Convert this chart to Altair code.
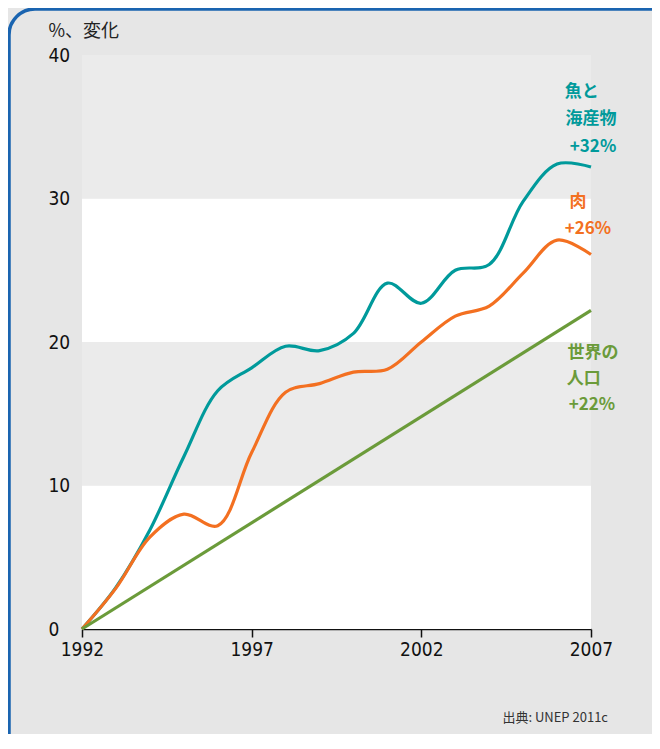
import altair as alt
import pandas as pd

years = list(range(1992, 2008))
fish = [0, 2.9, 6.9, 12.0, 16.6, 18.2, 19.7, 19.4, 20.6, 24.1, 22.7, 25.0, 25.4, 29.8, 32.4, 32.2]
meat = [0, 2.85, 6.4, 8.0, 7.2, 12.3, 16.5, 17.1, 17.9, 18.1, 20.0, 21.8, 22.5, 24.8, 27.1, 26.1]
population = [0, 22.2]
pop_years = [1992, 2007]

series_names = ["fish", "meat", "pop"]
series_colors = ["#009a9b", "#f37021", "#6b9b3a"]

band_lo = [0, 10, 20, 30]
band_hi = [10, 20, 30, 40]
band_fill = ["#ffffff", "#ebebeb", "#ffffff", "#ebebeb"]

label_text = ["魚と", "海産物", "+32%", "肉", "+26%", "世界の", "人口", "+22%"]
label_series = ["fish", "fish", "fish", "meat", "meat", "pop", "pop", "pop"]
label_x = [2006.73, 2007.0, 2007.06, 2006.62, 2006.91, 2007.06, 2006.79, 2007.03]
label_y = [37.4, 35.55, 33.6, 29.75, 27.9, 19.2, 17.45, 15.6]

x_ticks = [1992, 1997, 2002, 2007]
y_ticks = [0, 10, 20, 30, 40]

rows = []
for y, v in zip(years, fish):
    rows.append({"year": y, "value": v, "series": "fish"})
for y, v in zip(years, meat):
    rows.append({"year": y, "value": v, "series": "meat"})
for y, v in zip(pop_years, population):
    rows.append({"year": y, "value": v, "series": "pop"})
df = pd.DataFrame(rows)

bands = pd.DataFrame({"lo": band_lo, "hi": band_hi, "fill": band_fill,
                      "x0": [1992] * 4, "x1": [2007] * 4})
labels = pd.DataFrame({"text": label_text, "series": label_series, "x": label_x, "y": label_y})

xscale = alt.Scale(domain=[1992, 2007], nice=False, zero=False)
yscale = alt.Scale(domain=[0, 40], nice=False)
cscale = alt.Scale(domain=series_names, range=series_colors)

num_font = "Liberation Sans Narrow, DejaVu Sans Condensed, sans-serif"
cjk_font = "Noto Sans CJK JP"

band_layer = alt.Chart(bands).mark_rect().encode(
    x=alt.X("x0:Q", scale=xscale,
            axis=alt.Axis(values=x_ticks, format="d", title=None, grid=False,
                          domainColor="#111111", domainWidth=1.5, tickColor="#111111",
                          tickWidth=1.5, tickSize=8, labelFontSize=19, labelFont=num_font,
                          labelColor="#111111", labelPadding=3, labelFlush=False,
                          labelOverlap=False)),
    x2="x1:Q",
    y=alt.Y("lo:Q", scale=yscale,
            axis=alt.Axis(values=y_ticks, title="%、変化", grid=False, domain=False,
                          ticks=False, tickSize=0, labelAlign="left", labelPadding=34,
                          labelFontSize=19, labelFont=num_font, labelColor="#111111",
                          labelFlush=False,
                          titleAngle=0, titleAlign="left", titleBaseline="middle",
                          titleX=-34, titleY=-24, titleFont=cjk_font, titleFontSize=18,
                          titleFontWeight="normal", titleColor="#222222")),
    y2="hi:Q",
    color=alt.Color("fill:N", scale=None, legend=None),
)

line_layer = alt.Chart(df).mark_line(interpolate="catmull-rom", strokeWidth=3.2).encode(
    x=alt.X("year:Q", scale=xscale),
    y=alt.Y("value:Q", scale=yscale),
    color=alt.Color("series:N", scale=cscale, legend=None),
    detail="series:N",
)

label_layer = alt.Chart(labels).mark_text(
    font=cjk_font, fontSize=17, fontWeight="bold", align="center", baseline="middle"
).encode(
    x=alt.X("x:Q", scale=xscale),
    y=alt.Y("y:Q", scale=yscale),
    text="text:N",
    color=alt.Color("series:N", scale=cscale, legend=None),
)

source_layer = alt.Chart(alt.Data(values=[{"t": "出典: UNEP 2011c"}])).mark_text(
    font=cjk_font, fontSize=13, align="right", baseline="middle", color="#333333"
).encode(x=alt.value(526), y=alt.value(663), text="t:N")

frame_layer = alt.Chart(alt.Data(values=[{"f": 1}])).mark_rect(
    fill=None, stroke="#1a64b0", strokeWidth=3.5, cornerRadius=26
).encode(x=alt.value(-73), x2=alt.value(620), y=alt.value(-46), y2=alt.value(740))

chart = alt.layer(band_layer, line_layer, label_layer, source_layer, frame_layer).properties(
    width=509, height=574,
    autosize=alt.AutoSizeParams(type="none"),
    padding={"left": 74, "top": 47, "right": 61, "bottom": 105},
    background="#e6e6e6",
).configure_view(stroke=None)

chart.save("out.html", embed_options={"renderer": "svg", "actions": False})
